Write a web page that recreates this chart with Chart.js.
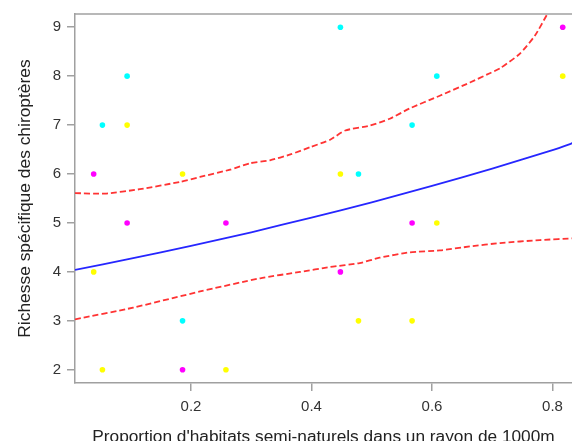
<!DOCTYPE html>
<html>
<head>
<meta charset="utf-8">
<script src="https://cdn.jsdelivr.net/npm/chart.js@4/dist/chart.umd.min.js"></script>
<style>
html,body{margin:0;padding:0;background:#fff;overflow:hidden;}
#wrap{width:572px;height:441px;}
</style>
</head>
<body>
<div id="wrap"><canvas id="c" width="572" height="441"></canvas></div>
<script>
// Observed points by colour
const cyanPts = [[0.053,7],[0.094,8],[0.186,3],[0.448,9],[0.478,6],[0.567,7],[0.608,8]];
const yellowPts = [[0.0385,4],[0.053,2],[0.094,7],[0.186,6],[0.258,2],[0.448,6],[0.478,3],[0.567,3],[0.608,5],[0.817,8]];
const magentaPts = [[0.0385,6],[0.094,5],[0.186,2],[0.258,5],[0.448,4],[0.567,5],[0.817,9]];
// Fitted curve
const fitX = [0.0075,0.1,0.2,0.3,0.4,0.5,0.6,0.7,0.8,0.84];
const fitY = [4.04,4.27,4.53,4.81,5.11,5.42,5.76,6.11,6.49,6.66];
// Upper confidence band
const upX = [0.0075,0.057,0.115,0.182,0.215,0.265,0.298,0.331,0.365,0.398,0.431,0.456,0.497,0.530,0.563,0.613,0.663,0.696,0.713,0.746,0.771,0.791,0.81];
const upY = [5.61,5.60,5.69,5.84,5.94,6.09,6.22,6.28,6.40,6.55,6.70,6.89,6.99,7.13,7.34,7.60,7.87,8.06,8.16,8.46,8.83,9.26,9.67];
// Lower confidence band
const loX = [0.0075,0.104,0.215,0.315,0.381,0.431,0.480,0.513,0.563,0.613,0.663,0.713,0.779,0.84];
const loY = [3.03,3.27,3.60,3.87,4.00,4.10,4.18,4.29,4.40,4.44,4.52,4.59,4.65,4.69];
const xTicks = [0.2,0.4,0.6,0.8];
const yTicks = [2,3,4,5,6,7,8,9];

const toXY = (xs, ys) => xs.map((x,i)=>({x:x,y:ys[i]}));
const toPts = arr => arr.map(p=>({x:p[0],y:p[1]}));

const FONT = "Arial, 'Liberation Sans', sans-serif";
const AXC = '#a0a0a0';

const topBorder = {
  id:'topBorder',
  afterDraw(chart){
    const {ctx, chartArea:a} = chart;
    ctx.save();
    ctx.strokeStyle = AXC; ctx.lineWidth = 1.5;
    ctx.beginPath(); ctx.moveTo(a.left, a.top); ctx.lineTo(chart.width, a.top); ctx.stroke();
    ctx.restore();
  }
};

new Chart(document.getElementById('c'), {
  type:'scatter',
  data:{datasets:[
    {data:toXY(upX,upY), showLine:true, borderColor:'#ff3333', borderWidth:1.8, borderDash:[6,3], pointRadius:0, fill:false, tension:0.2},
    {data:toXY(loX,loY), showLine:true, borderColor:'#ff3333', borderWidth:1.8, borderDash:[6,3], pointRadius:0, fill:false, tension:0.2},
    {data:toXY(fitX,fitY), showLine:true, borderColor:'#2626ff', borderWidth:1.8, pointRadius:0, fill:false, tension:0.2},
    {data:toPts(cyanPts), backgroundColor:'#00ffff', borderWidth:0, pointRadius:2.8},
    {data:toPts(yellowPts), backgroundColor:'#ffff00', borderWidth:0, pointRadius:2.8},
    {data:toPts(magentaPts), backgroundColor:'#ff00ff', borderWidth:0, pointRadius:2.8}
  ]},
  options:{
    responsive:false, animation:false, devicePixelRatio:1,
    layout:{autoPadding:false, padding:{top:14,right:0,left:0,bottom:0}},
    plugins:{legend:{display:false}, tooltip:{enabled:false}},
    scales:{
      x:{type:'linear', min:0.0075, max:0.8324,
        afterBuildTicks(s){ s.ticks = xTicks.map(v=>({value:v})); },
        afterFit(s){ s.height = 58; s.paddingLeft = 0; s.paddingRight = 0; },
        ticks:{color:'#333', font:{family:FONT,size:15}, padding:7, maxRotation:0, callback:v=>String(v)},
        grid:{drawOnChartArea:false, drawTicks:true, tickLength:8, color:AXC, lineWidth:1.5},
        border:{display:true, color:AXC, width:1.5},
        title:{display:true, text:"Proportion d'habitats semi-naturels dans un rayon de 1000m", color:'#222', font:{family:FONT,size:17.3}, padding:{top:0,bottom:-7}}
      },
      y:{type:'linear', min:1.73, max:9.27,
        afterBuildTicks(s){ s.ticks = yTicks.map(v=>({value:v})); },
        afterFit(s){ s.width = 75; s.paddingTop = 0; s.paddingBottom = 0; },
        ticks:{color:'#333', font:{family:FONT,size:15}, padding:6, callback:v=>String(v)},
        grid:{drawOnChartArea:false, drawTicks:true, tickLength:8, color:AXC, lineWidth:1.5},
        border:{display:true, color:AXC, width:1.5},
        title:{display:true, text:"Richesse spécifique des chiroptères", color:'#222', font:{family:FONT,size:17.4}, padding:{top:15,bottom:0}}
      }
    }
  },
  plugins:[topBorder]
});
</script>
</body>
</html>
